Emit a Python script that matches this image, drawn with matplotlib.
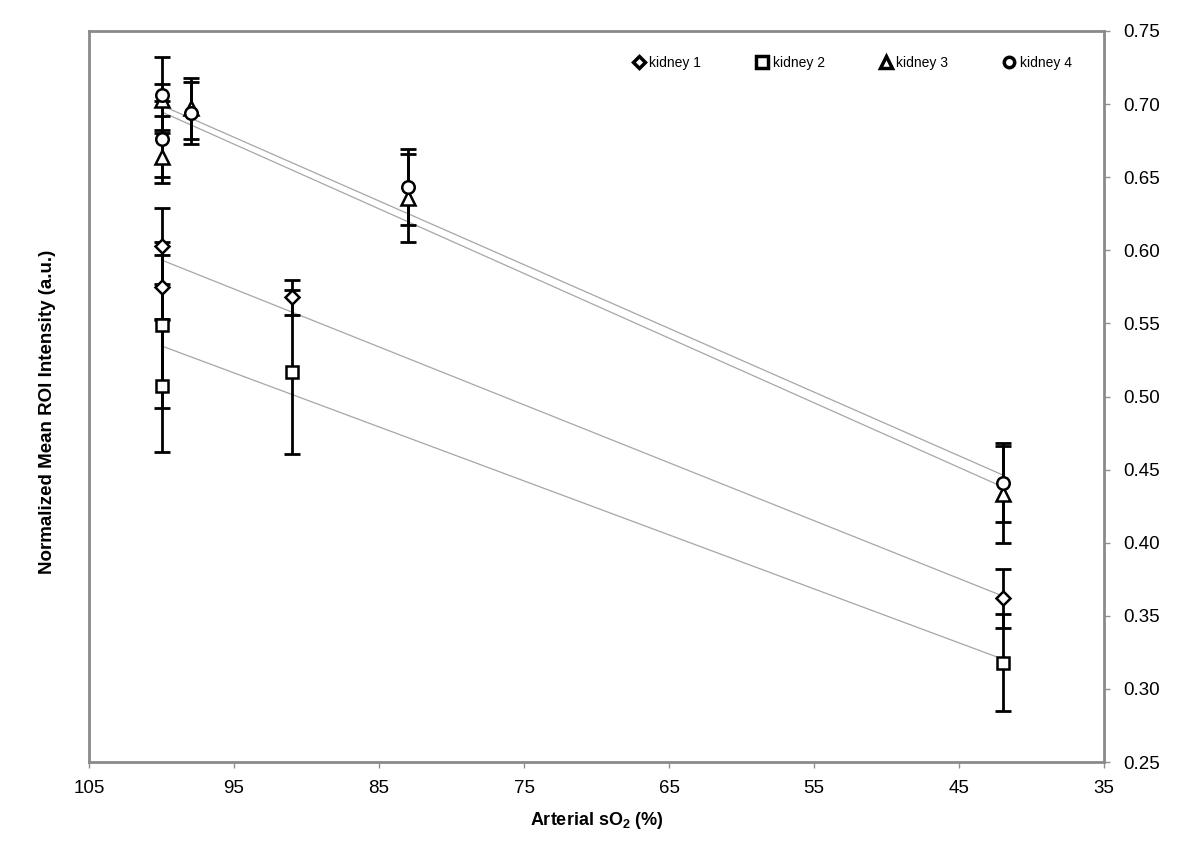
import numpy as np
import matplotlib
matplotlib.use("Agg")
import matplotlib.pyplot as plt
from matplotlib.lines import Line2D

plt.rcParams['font.family'] = ['Liberation Sans', 'DejaVu Sans']
plt.rcParams['mathtext.default'] = 'regular'

# Data (arterial sO2 %, normalized intensity, error)
k1_x = [100, 100, 91, 42]
k1_y = [0.603, 0.575, 0.568, 0.362]
k1_e = [0.026, 0.022, 0.012, 0.020]

k2_x = [100, 100, 91, 42]
k2_y = [0.549, 0.507, 0.517, 0.318]
k2_e = [0.057, 0.045, 0.056, 0.033]

k3_x = [100, 100, 98, 83, 42]
k3_y = [0.703, 0.664, 0.697, 0.636, 0.433]
k3_e = [0.011, 0.018, 0.021, 0.030, 0.033]

k4_x = [100, 100, 98, 83, 42]
k4_y = [0.706, 0.676, 0.694, 0.643, 0.441]
k4_e = [0.026, 0.026, 0.021, 0.026, 0.027]

labels = ["kidney 1", "kidney 2", "kidney 3", "kidney 4"]
markers = ["D", "s", "^", "o"]
msizes = [7, 9, 9.5, 9]

series = [(k1_x, k1_y, k1_e), (k2_x, k2_y, k2_e), (k3_x, k3_y, k3_e), (k4_x, k4_y, k4_e)]

fig = plt.figure(figsize=(12, 8.63), dpi=100)
ax = fig.add_axes([0.0742, 0.117, 0.8458, 0.8471])

# trend lines
for (x, y, e) in series:
    x = np.array(x, float); y = np.array(y, float)
    p = np.polyfit(x, y, 1)
    xs = np.array([x.min(), x.max()])
    ax.plot(xs, np.polyval(p, xs), color='#a6a6a6', lw=0.9, zorder=1)

for (x, y, e), m, ms in zip(series, markers, msizes):
    ax.errorbar(x, y, yerr=e, fmt='none', ecolor='black', elinewidth=2.0,
                capsize=6, capthick=2.0, zorder=2)
    ax.plot(x, y, linestyle='none', marker=m, ms=ms, mfc='white', mec='black',
            mew=1.8, zorder=3)

ax.set_xlim(105, 35)
ax.set_ylim(0.25, 0.75)
ax.set_xticks(np.arange(105, 34, -10))
ax.set_yticks(np.arange(0.25, 0.751, 0.05))
ax.set_yticklabels([f"{v:.2f}" for v in np.arange(0.25, 0.751, 0.05)])
ax.yaxis.tick_right()
ax.tick_params(axis='both', labelsize=13.5, color='#909090', length=4, width=1,
               direction='out')
ax.tick_params(axis='x', pad=9)
ax.tick_params(axis='y', pad=10)
for s in ax.spines.values():
    s.set_color('#8a8a8a')
    s.set_linewidth(2)

ax.set_xlabel("Arterial sO$_2$ (%)", fontsize=13, fontweight='bold', labelpad=9)
fig.text(0.040, 0.5226, "Normalized Mean ROI Intensity (a.u.)", rotation=90,
         fontsize=13.5, fontweight='bold', ha='center', va='center')

handles = [Line2D([], [], linestyle='none', marker=m, ms=s, mfc='white',
                  mec='black', mew=2.5) for m, s in zip(markers, [6, 8, 8, 7.5])]
fig.legend(handles, labels, loc='center', bbox_to_anchor=(0.711, 0.927), ncol=4,
           frameon=False, fontsize=10, handlelength=0.6, handletextpad=0.45,
           columnspacing=4.1)

fig.savefig("out.png", dpi=100)
